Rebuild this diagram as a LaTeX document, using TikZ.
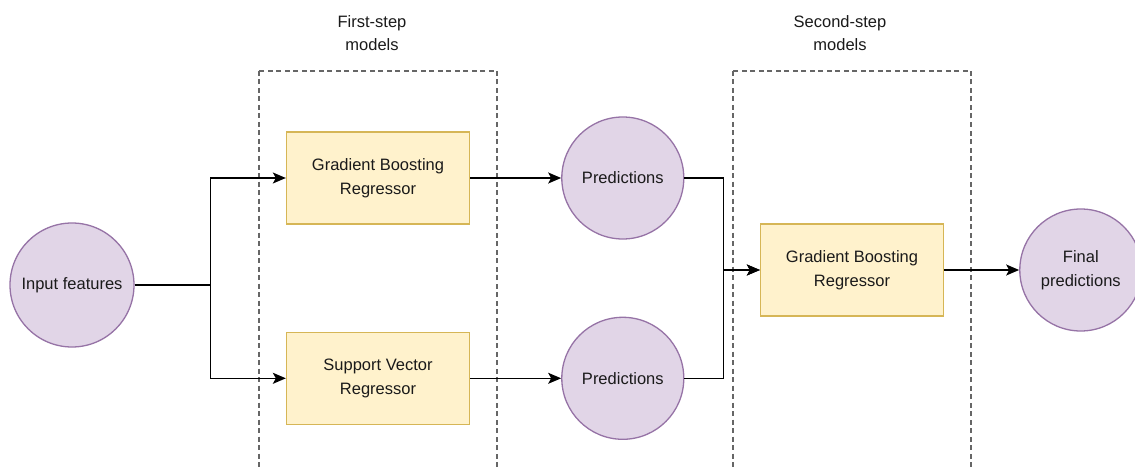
\documentclass[tikz,border=0pt]{standalone}
\usepackage{fontspec}
\setmainfont{Liberation Sans}
\usetikzlibrary{arrows.meta,positioning}
\definecolor{purplefill}{HTML}{E1D5E7}
\definecolor{purpleline}{HTML}{9673A6}
\definecolor{yellowfill}{HTML}{FFF2CC}
\definecolor{yellowline}{HTML}{D6B656}
\definecolor{frameline}{HTML}{666666}
\definecolor{textcol}{HTML}{1A1A1A}

\begin{document}
\begin{tikzpicture}[
  x=1pt, y=-1pt,
  font=\fontsize{16.5}{23.5}\selectfont, text=textcol,
  model/.style={draw=yellowline, fill=yellowfill, line width=1.3pt, align=center, minimum width=183pt, minimum height=92pt, inner sep=0pt},
  roundnode/.style={circle, draw=purpleline, fill=purplefill, line width=1.3pt, align=center, minimum size=122pt, inner sep=0pt},
  stepframe/.style={draw=frameline, dash pattern=on 5pt off 3.5pt, line width=1.4pt},
  arrow/.style={-{Stealth[length=13pt,width=11pt,inset=3pt]}, line width=1.4pt}
]
\useasboundingbox (0,0) rectangle (1135,468);
% dashed groups
\draw[stepframe] (259,71) rectangle (497,490);
\draw[stepframe] (733,71) rectangle (971,490);
\node[align=center] (firstlbl) at (372,33) {First-step\\models};
\node[align=center] (secondlbl) at (840,33) {Second-step\\models};

\node[roundnode, minimum size=124pt] (input) at (72,285) {Input features};
\node[model] (gbA) at (378,178) {Gradient Boosting\\Regressor};
\node[model, below=107pt of gbA] (svr) {Support Vector\\Regressor};
\node[roundnode, right=91pt of gbA] (predA) {Predictions};
\node[roundnode, right=91pt of svr] (predB) {Predictions};
\node[model] (gbB) at (852,270) {Gradient Boosting\\Regressor};
\node[roundnode, right=75pt of gbB] (final) {Final\\predictions};

\draw[arrow] (input.east) -- +(76,0) |- (gbA.west);
\draw[arrow] (input.east) -- +(76,0) |- (svr.west);
\draw[arrow] (gbA) -- (predA);
\draw[arrow] (svr) -- (predB);
\draw[arrow] (predA.east) -- +(39,0) |- (gbB.west);
\draw[arrow] (predB.east) -- +(39,0) |- (gbB.west);
\draw[arrow] (gbB) -- (final);
\end{tikzpicture}
\end{document}
